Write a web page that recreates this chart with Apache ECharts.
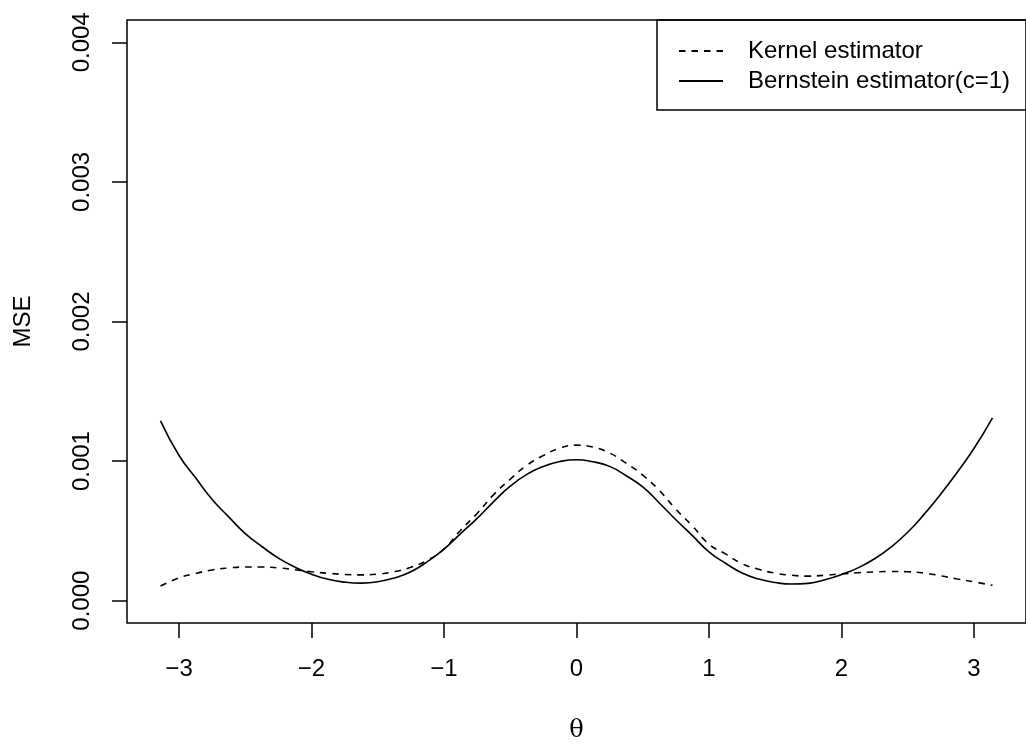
<!DOCTYPE html>
<html>
<head>
<meta charset="utf-8">
<script src="https://cdn.jsdelivr.net/npm/echarts@6/dist/echarts.min.js"></script>
<style>html,body{margin:0;padding:0;background:#fff}#c{width:1026px;height:748px}</style>
</head>
<body>
<div id="c"></div>
<script>
// theta grid
var theta = [-3.14, -3.0, -2.875, -2.75, -2.625, -2.5, -2.375, -2.25, -2.125, -2.0, -1.875, -1.75, -1.625,
             -1.5, -1.375, -1.25, -1.125, -1.0, -0.875, -0.75, -0.625, -0.5, -0.375, -0.25, -0.125, 0,
             0.125, 0.25, 0.375, 0.5, 0.625, 0.75, 0.875, 1.0, 1.125, 1.25, 1.375, 1.5, 1.625, 1.75,
             1.875, 2.0, 2.125, 2.25, 2.375, 2.5, 2.625, 2.75, 2.875, 3.0, 3.14];
// MSE values (units of 1e-3)
var kernelMSE = [0.105, 0.163, 0.195, 0.22, 0.234, 0.241, 0.241, 0.235, 0.222, 0.207, 0.196, 0.188, 0.185,
                 0.19, 0.208, 0.24, 0.29, 0.37, 0.505, 0.625, 0.76, 0.87, 0.97, 1.04, 1.093, 1.114,
                 1.1, 1.058, 0.985, 0.90, 0.79, 0.655, 0.535, 0.405, 0.335, 0.265, 0.225, 0.197, 0.182, 0.176,
                 0.182, 0.192, 0.2, 0.206, 0.209, 0.207, 0.198, 0.178, 0.155, 0.135, 0.11];
var bernsteinMSE = [1.288, 1.04, 0.88, 0.725, 0.6, 0.48, 0.388, 0.305, 0.24, 0.19, 0.153, 0.133, 0.126,
                    0.135, 0.163, 0.207, 0.28, 0.37, 0.48, 0.59, 0.71, 0.82, 0.905, 0.962, 0.997, 1.01,
                    0.995, 0.962, 0.895, 0.815, 0.70, 0.58, 0.466, 0.35, 0.268, 0.198, 0.155, 0.13, 0.119, 0.124,
                    0.15, 0.187, 0.235, 0.30, 0.385, 0.49, 0.62, 0.765, 0.922, 1.09, 1.31];
var xTicks = [-3, -2, -1, 0, 1, 2, 3];
var yTicks = [0, 0.001, 0.002, 0.003, 0.004];
var seriesNames = ['Kernel estimator', 'Bernstein estimator(c=1)'];

function pairs(ys) {
  return theta.map(function (t, i) { return [t, ys[i] / 1000]; });
}

var chart = echarts.init(document.getElementById('c'), null, {renderer: 'canvas'});
var FONT = 'Liberation Sans, Arial, Helvetica, sans-serif';
chart.setOption({
  animation: false,
  backgroundColor: '#fff',
  grid: {left: 127, right: -8, top: 20, bottom: 123, show: true, borderColor: '#000', borderWidth: 1.5, backgroundColor: 'transparent'},
  legend: {
    orient: 'vertical', left: 657, top: 20,
    data: seriesNames,
    borderColor: '#000', borderWidth: 1.5, borderRadius: 0,
    padding: [19, 25, 17, 21],
    itemWidth: 44, itemHeight: 14, itemGap: 6,
    itemStyle: {opacity: 0},
    textStyle: {fontFamily: FONT, fontSize: 24, color: '#000', padding: [0, 0, 0, 20]}
  },
  xAxis: {
    type: 'value', min: -3.3929, max: 3.3929,
    name: 'θ', nameLocation: 'middle', nameGap: 96,
    nameTextStyle: {fontFamily: 'DejaVu Serif, Liberation Serif, serif', fontSize: 24, color: '#000'},
    axisLine: {show: false, onZero: false},
    splitLine: {show: false},
    axisTick: {show: true, length: 15, customValues: xTicks, lineStyle: {color: '#000', width: 1.5}},
    axisLabel: {customValues: xTicks, margin: 34, fontFamily: FONT, fontSize: 24, color: '#000',
      formatter: function (v) { return String(v).replace('-', '\u2212'); }}
  },
  yAxis: {
    type: 'value', min: -0.00016, max: 0.00416,
    name: 'MSE', nameLocation: 'middle', nameGap: 92,
    nameTextStyle: {fontFamily: FONT, fontSize: 24, color: '#000'},
    axisLine: {show: false, onZero: false},
    splitLine: {show: false},
    axisTick: {show: true, length: 15, customValues: yTicks, lineStyle: {color: '#000', width: 1.5}},
    axisLabel: {customValues: yTicks, rotate: 90, margin: 33, fontFamily: FONT, fontSize: 24, color: '#000',
      formatter: function (v) { return v.toFixed(3); }}
  },
  series: [
    {name: seriesNames[0], type: 'line', data: pairs(kernelMSE), smooth: true, symbol: 'none',
     lineStyle: {color: '#000', width: 1.6, type: [6.5, 6]}, itemStyle: {color: '#000'}},
    {name: seriesNames[1], type: 'line', data: pairs(bernsteinMSE), smooth: true, symbol: 'none',
     lineStyle: {color: '#000', width: 1.6, type: 'solid'}, itemStyle: {color: '#000'}}
  ]
});
</script>
</body>
</html>
